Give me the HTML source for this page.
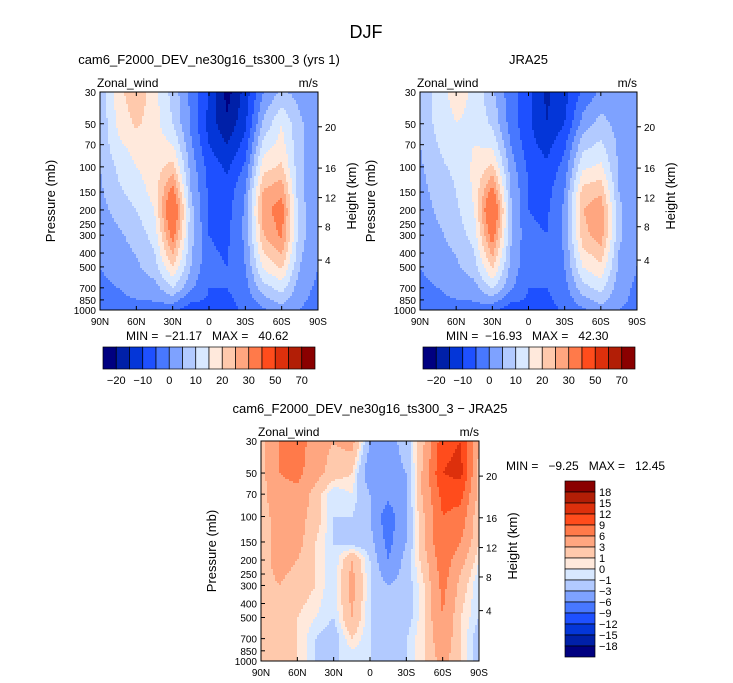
<!DOCTYPE html>
<html><head><meta charset="utf-8"><style>
body{margin:0;background:#fff;width:733px;height:683px;overflow:hidden}
svg{display:block;font-family:"Liberation Sans",sans-serif}
.pre{white-space:pre}
</style></head><body>
<svg id="s" width="733" height="683"></svg>
<script>
const lats=[90,75,60,45,30,15,0,-15,-30,-45,-60,-75,-90];
const plevs=[30,50,70,100,150,200,300,500,700,1000];
const camVals=[
[6,18,24,17,8,-1,-10,-22,-13,0,6,3,1],
[6,16,21,17,10,-1,-12,-19,-11,6,15,6,1],
[6,14,17,18,15,1,-10,-15,-8,12,17,6,1],
[5,11,15,18,22,3,-7,-11,-4,18,21,6,1],
[4,9,12,17,33,5,-6,-8,0,26,29,6,1],
[3,7,10,15,40,7,-6,-7,1,28,33,7,1],
[1,4,7,12,33,7,-5,-6,1,25,31,7,1],
[0,2,4,8,20,5,-4,-5,0,16,21,5,0],
[-1,0,1,3,10,1,-5,-5,-2,8,12,2,-1],
[-1,-1,-1,-2,-4,-8,-6,-7,-4,-1,3,0,-2]];
const jraVals=[
[5,13,17,14,6,-3,-8,-16,-12,-4,1,2,1],
[5,12,15,14,9,-2,-9,-15,-10,2,7,3,1],
[5,10,13,15,14,0,-8,-12,-6,8,11,4,1],
[4,9,11,16,21,3,-6,-9,-3,14,16,4,1],
[3,7,10,16,33,5,-5,-7,0,22,24,5,1],
[2,6,9,15,41,6,-5,-6,1,25,29,6,1],
[1,4,7,12,34,6,-4,-5,1,23,28,6,1],
[0,2,4,8,21,4,-4,-5,0,15,19,4,0],
[-1,0,1,3,11,1,-5,-5,-2,8,12,2,-1],
[-1,-1,-1,-2,-4,-8,-6,-7,-4,-1,3,0,-1]];
const diffVals=[
[2,6,8,4,3,4,-3,-4,-2,3,11,12,3],
[2,6,7,4,2,1,-5,-4,-3,4,12,13,2],
[2,5,5,2,-1,0,-3,-5,-3,4,10,10,2],
[2,4,4,2,-1,-1,-3,-8,-3,3,9,8,1],
[2,4,4,1,-1,-2,-2,-7,-3,3,9,6,1],
[2,4,3,1,-1,3,-1,-6,-2,2,8,4,0],
[2,3,2,1,-1,4,-1,-3,-2,1,7,2,-1],
[2,2,1,0,-1,3,-1,-2,-2,1,6,1,-1],
[2,2,1,-1,-2,1,-1,-2,-1,1,5,1,-2],
[2,2,1,-1,-1,-1,-1,-1,-1,1,4,1,-2]];
const levA=[-20,-15,-10,-5,0,5,10,15,20,25,30,40,50,60,70];
const levD=[-18,-15,-12,-9,-6,-3,-1,0,1,3,6,9,12,15,18];
const labA=["−20","−10","0","10","20","30","50","70"];
const labD=["18","15","12","9","6","3","1","0","−1","−3","−6","−9","−12","−15","−18"];
const pTicks=[30,50,70,100,150,200,250,300,400,500,700,850,1000];
const hTicks=[20,16,12,8,4];
const hTickP=[52.5,102,164,262,448];
const latTicks=["90N","60N","30N","0","30S","60S","90S"];
const cols=["#000080","#0020a8","#0436d8","#1e50ff","#4878ff","#7ea2ff","#b2caff","#d8e8ff","#ffe9dc","#ffc9ac","#ffa680","#ff7a4a","#ff4c1c","#dd300c","#b21e06","#8a0000"];
const S=document.getElementById('s');const NS="http://www.w3.org/2000/svg";
function mk(t,a,p){const e=document.createElementNS(NS,t);for(const k in a)e.setAttribute(k,a[k]);(p||S).appendChild(e);return e}
function tx(x,y,s,str,anc,size,p,rot){const e=mk('text',{x:x,y:y,'font-size':size||11,'text-anchor':anc||'middle',fill:'#000'},p);if(rot)e.setAttribute('transform',`rotate(-90 ${x} ${y})`);e.textContent=str;return e}
function lp(p){return Math.log(p)}
function field(v,lat,p){
 let fi=(90-lat)/15;let i=Math.max(0,Math.min(11,Math.floor(fi)));let fx=fi-i;
 const L=plevs.map(lp);const q=lp(p);let j=0;while(j<8&&q>L[j+1])j++;let fy=(q-L[j])/(L[j+1]-L[j]);
 const a=v[j][i]*(1-fx)+v[j][i+1]*fx,b=v[j+1][i]*(1-fx)+v[j+1][i+1]*fx;return a*(1-fy)+b*fy}
function ci(val,lev){let k=0;while(k<lev.length&&val>=lev[k])k++;return k}
function panel(name,x0,y0,w,h,vals,lev,title){
 const g=mk('g',{});
 const yOf=p=>y0+(lp(p)-lp(30))/(lp(1000)-lp(30))*h;
 const c=2;
 for(let py=0;py<h;py+=c){
  const p=Math.exp(lp(30)+(py+c/2)/h*(lp(1000)-lp(30)));let run=-1,rs=0;
  for(let px=0;;px+=c){
   const end=px>=w;let k=-2;
   if(!end){const lat=90-(px+c/2)/w*180;k=ci(field(vals,lat,p),lev)}
   if(k!==run){if(run>=0)mk('rect',{x:x0+rs,y:y0+py,width:Math.min(px,w)-rs+0.5,height:Math.min(c+0.5,h-py),fill:cols[run]},g);run=k;rs=px}
   if(end)break;
  }
 }
 mk('rect',{x:x0,y:y0,width:w,height:h,fill:'none',stroke:'#000','stroke-width':1},g);
 pTicks.forEach(p=>{const y=yOf(p);mk('line',{x1:x0,x2:x0+4,y1:y,y2:y,stroke:'#000'},g);tx(x0-4,y+4,0,String(p),'end',10,g)});
 hTicks.forEach((hk,i)=>{const y=yOf(hTickP[i]);mk('line',{x1:x0+w,x2:x0+w+4,y1:y,y2:y,stroke:'#000'},g);tx(x0+w+7,y+4,0,String(hk),'start',10,g)});
 latTicks.forEach((t,i)=>{const x=x0+i*w/6;mk('line',{x1:x,x2:x,y1:y0+h,y2:y0+h-4,stroke:'#000'},g);mk('line',{x1:x,x2:x,y1:y0,y2:y0+4,stroke:'#000'},g);tx(x,y0+h+15,0,t,'middle',10,g)});
 tx(x0-3,y0-5,0,'Zonal_wind','start',12,g);tx(x0+w,y0-5,0,'m/s','end',12,g);
 tx(x0-45,y0+h/2,0,'Pressure (mb)','middle',13,g,true);
 tx(x0+w+38,y0+h/2-5,0,'Height (km)','middle',13,g,true);
 tx(x0+w/2,y0-28,0,title,'middle',13,g);
 return g}
function hbar(name,x0,y0){
 const g=mk('g',{});
 const bw=212/16;
 cols.forEach((c,i)=>mk('rect',{x:x0+i*bw,y:y0,width:bw,height:22,fill:c,stroke:'#000','stroke-width':0.7},g));
 labA.forEach((l,i)=>tx(x0+(2*i+1)*bw,y0+37,0,l,'middle',11,g));}
function mm(x,y,str,name){const e=tx(x,y,0,str,'start',12);e.setAttribute('class','pre');}
tx(366,38,0,'DJF','middle',18);
panel('panel-cam6',100,92,218,218,camVals,levA,'cam6_F2000_DEV_ne30g16_ts300_3 (yrs 1)');
mm(126,340,'MIN =  −21.17   MAX =   40.62','minmax-cam6');
hbar('colorbar-cam6',103,347);
panel('panel-jra25',420,92,217,218,jraVals,levA,'JRA25');
mm(446,340,'MIN =  −16.93   MAX =   42.30','minmax-jra25');
hbar('colorbar-jra25',423,347);
panel('panel-difference',261,441,218,220,diffVals,levD,'cam6_F2000_DEV_ne30g16_ts300_3 − JRA25');
mm(506,470,'MIN =   −9.25   MAX =   12.45','minmax-difference');
(function(){const g=mk('g',{});
 const bh=176/16;for(let i=0;i<16;i++)mk('rect',{x:565,y:481+i*bh,width:30,height:bh,fill:cols[15-i],stroke:'#000','stroke-width':0.7},g);
 labD.forEach((l,i)=>tx(599,481+(i+1)*bh+4,0,l,'start',11,g));})();
</script>
</body></html>
